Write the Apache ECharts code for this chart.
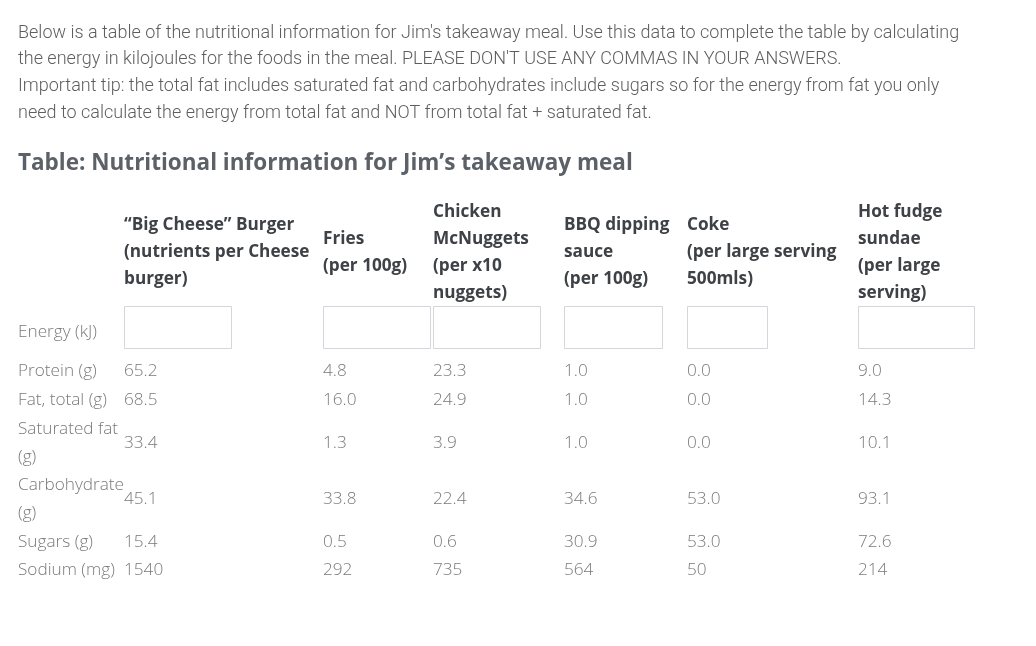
<!DOCTYPE html>
<html><head><meta charset="utf-8">
<script src="https://cdn.jsdelivr.net/npm/echarts@6/dist/echarts.min.js"></script>
<style>html,body{margin:0;padding:0;background:#fff}#c{width:1036px;height:646px}</style>
</head><body><div id="c"></div>
<script>
// ---- data ----
const introLines = [
  "Below is a table of the nutritional information for Jim's takeaway meal. Use this data to complete the table by calculating",
  "the energy in kilojoules for the foods in the meal. PLEASE DON'T USE ANY COMMAS IN YOUR ANSWERS.",
  "Important tip: the total fat includes saturated fat and carbohydrates include sugars so for the energy from fat you only",
  "need to calculate the energy from total fat and NOT from total fat + saturated fat."
];
const tableTitle = "Table: Nutritional information for Jim\u2019s takeaway meal";
const foods = [
  ["\u201cBig Cheese\u201d Burger", "(nutrients per Cheese", "burger)"],
  ["Fries", "(per 100g)"],
  ["Chicken", "McNuggets", "(per x10", "nuggets)"],
  ["BBQ dipping", "sauce", "(per 100g)"],
  ["Coke", "(per large serving", "500mls)"],
  ["Hot fudge", "sundae", "(per large", "serving)"]
];
const energyLabel = "Energy (kJ)";
const nutrients = [["Protein (g)"], ["Fat, total (g)"], ["Saturated fat", "(g)"], ["Carbohydrate", "(g)"], ["Sugars (g)"], ["Sodium (mg)"]];
const decimals = [1, 1, 1, 1, 1, 0];
const burger = [65.2, 68.5, 33.4, 45.1, 15.4, 1540];
const fries = [4.8, 16.0, 1.3, 33.8, 0.5, 292];
const nuggets = [23.3, 24.9, 3.9, 22.4, 0.6, 735];
const bbqSauce = [1.0, 1.0, 1.0, 34.6, 30.9, 564];
const coke = [0.0, 0.0, 0.0, 53.0, 53.0, 50];
const sundae = [9.0, 14.3, 10.1, 93.1, 72.6, 214];
const values = [burger, fries, nuggets, bbqSauce, coke, sundae];

// ---- layout ----
const L = {
  left: 18,
  introY: 33, introLH: 26.7,
  titleY: 164,
  colX: [124, 323, 433, 564, 687, 858],
  boxW: [107, 107, 107, 98, 80, 116],
  headCY: 252.5, headLH: 27,
  boxY: 306, boxH: 42, energyY: 332,
  rowY: [371, 400, 443, 499, 542, 570], rowLH: 28
};
const fIntro = '300 18px Roboto';
const fTitle = 'bold 22.5px "Open Sans"';
const fHead = 'bold 17.2px "Open Sans"';
const fBody = '300 17.2px "Open Sans"';
const cIntro = '#5e5e5e', cTitle = '#5c6168', cHead = '#3e4246', cBody = '#7a7a7a';

function txt(s, x, y, font, fill) {
  return { type: 'text', x: x, y: y, silent: true,
    style: { text: s, font: font, fill: fill, textAlign: 'left', textVerticalAlign: 'middle', align: 'left', verticalAlign: 'middle' } };
}
const g = [];
introLines.forEach((s, i) => g.push(txt(s, L.left, L.introY + i * L.introLH, fIntro, cIntro)));
g.push(txt(tableTitle, L.left, L.titleY, fTitle, cTitle));
foods.forEach((lines, c) => {
  const top = L.headCY - (lines.length - 1) * L.headLH / 2;
  lines.forEach((s, k) => g.push(txt(s, L.colX[c], top + k * L.headLH, fHead, cHead)));
  g.push({ type: 'rect', silent: true, shape: { x: L.colX[c] + 0.5, y: L.boxY + 0.5, width: L.boxW[c], height: L.boxH },
    style: { fill: '#fff', stroke: '#d3d6da', lineWidth: 1 } });
});
g.push(txt(energyLabel, L.left, L.energyY, fBody, cBody));
nutrients.forEach((lines, r) => {
  const top = L.rowY[r] - (lines.length - 1) * L.rowLH / 2;
  lines.forEach((s, k) => g.push(txt(s, L.left, top + k * L.rowLH, fBody, cBody)));
  values.forEach((col, c) => g.push(txt(col[r].toFixed(decimals[r]), L.colX[c], L.rowY[r], fBody, cBody)));
});

const chart = echarts.init(document.getElementById('c'), null, { renderer: 'canvas' });
chart.setOption({ backgroundColor: '#ffffff', animation: false, graphic: { elements: g } });
</script></body></html>
